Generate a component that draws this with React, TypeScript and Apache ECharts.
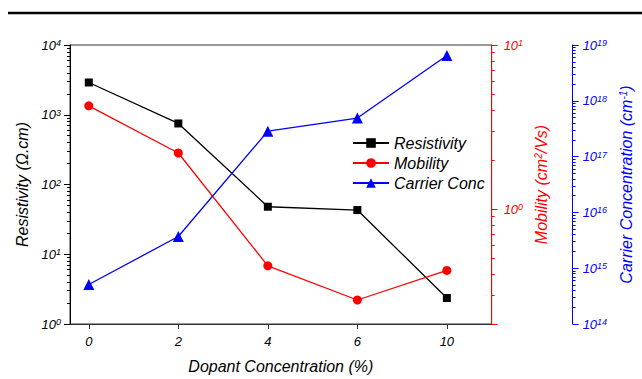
import React, { useEffect, useRef } from "react";
import * as echarts from "echarts";

const categories = ["0", "2", "4", "6", "10"];
const resistivity = [2900, 750, 48, 43, 2.36];
const mobility = [4.26, 2.2, 0.452, 0.28, 0.424];
const carrier = [5.1e14, 3.7e15, 2.86e17, 4.9e17, 6.5e18];

const leftRange = [1, 1e4];
const redRange = [0.2, 10];
const blueRange = [1e14, 1e19];

const FONT = "Liberation Sans, Arial, sans-serif";

function minorLogs(lo: number, hi: number): number[] {
  const out: number[] = [];
  const a = Math.floor(Math.log10(lo));
  const b = Math.ceil(Math.log10(hi));
  for (let n = a; n < b; n++) {
    for (let k = 2; k <= 9; k++) {
      const v = Math.log10(k) + n;
      if (v >= Math.log10(lo) - 1e-9 && v <= Math.log10(hi) + 1e-9) out.push(v);
    }
  }
  return out;
}

function supRich(color: string) {
  return {
    b: { fontSize: 13, fontStyle: "italic", fontFamily: FONT, color },
    s: { fontSize: 9, fontStyle: "italic", fontFamily: FONT, color, verticalAlign: "top" as const },
  };
}

function logFmt(v: number) {
  const l = Math.log10(v);
  const e = Math.round(l);
  if (Math.abs(l - e) > 1e-6) return "";
  return `{b|10}{s|${e}}`;
}

export default function App() {
  const ref = useRef<HTMLDivElement>(null);
  useEffect(() => {
    document.body.style.margin = "0";
    const chart = echarts.init(ref.current!, null, { renderer: "svg" });
    const nameStyle = (color: string) => ({
      fontSize: 16,
      fontStyle: "italic" as const,
      fontFamily: FONT,
      color,
      rich: {
        s: { fontSize: 10, fontStyle: "italic" as const, fontFamily: FONT, color, verticalAlign: "top" as const },
      },
    });
    const minorAxis = (position: string, offset: number, range: number[], color: string) => ({
      type: "value",
      position,
      offset,
      min: Math.log10(range[0]),
      max: Math.log10(range[1]),
      axisLine: { show: false, onZero: false },
      axisLabel: { show: false },
      splitLine: { show: false },
      axisTick: {
        show: true,
        inside: false,
        length: 3,
        customValues: minorLogs(range[0], range[1]),
        lineStyle: { color, width: 1 },
      },
    });
    chart.setOption({
      animation: false,
      backgroundColor: "#ffffff",
      graphic: [
        {
          type: "line",
          shape: { x1: 8, y1: 13, x2: 642, y2: 13 },
          style: { stroke: "#000", lineWidth: 2.5 },
        },
      ],
      grid: {
        left: 70,
        right: 146,
        top: 45,
        bottom: 48,
        show: true,
        borderColor: "#333",
        borderWidth: 1,
        backgroundColor: "transparent",
      },
      legend: {
        orient: "vertical",
        left: 352,
        top: 135,
        padding: 0,
        itemWidth: 36,
        itemHeight: 12,
        itemGap: 4,
        selectedMode: false,
        textStyle: { fontSize: 16, fontStyle: "italic", fontFamily: FONT, color: "#000", lineHeight: 16 },
        data: ["Resistivity", "Mobility", "Carrier Conc"],
      },
      xAxis: {
        type: "value",
        min: -0.21,
        max: 4.5,
        name: "Dopant Concentration (%)",
        nameLocation: "middle",
        nameGap: 34,
        nameTextStyle: { fontSize: 16, fontStyle: "italic", fontFamily: FONT, color: "#000" },
        axisLine: { onZero: false, lineStyle: { color: "#333", width: 1 } },
        axisTick: {
          show: true,
          inside: false,
          length: 5,
          customValues: categories.map((_, i) => i),
          lineStyle: { color: "#333" },
        },
        axisLabel: {
          customValues: categories.map((_, i) => i),
          formatter: (v: number) => categories[Math.round(v)] ?? "",
          fontSize: 13,
          fontStyle: "italic",
          fontFamily: FONT,
          color: "#000",
          margin: 11,
        },
        splitLine: { show: false },
      },
      yAxis: [
        {
          type: "log",
          logBase: 10,
          min: leftRange[0],
          max: leftRange[1],
          position: "left",
          name: "Resistivity (Ω.cm)",
          nameLocation: "middle",
          nameGap: 33,
          nameTextStyle: nameStyle("#000"),
          axisLine: { show: true, onZero: false, lineStyle: { color: "#000", width: 1 } },
          axisTick: { show: true, inside: false, length: 6, lineStyle: { color: "#000" } },
          axisLabel: { formatter: logFmt, rich: supRich("#000"), margin: 9 },
          splitLine: { show: false },
        },
        {
          type: "log",
          logBase: 10,
          min: redRange[0],
          max: redRange[1],
          position: "right",
          offset: 0,
          name: "Mobility (cm{s|2}/Vs)",
          nameLocation: "middle",
          nameGap: 38,
          nameTextStyle: nameStyle("#ff0000"),
          axisLine: { show: true, onZero: false, lineStyle: { color: "#ff0000", width: 1 } },
          axisTick: { show: true, inside: false, length: 6, lineStyle: { color: "#ff0000" } },
          axisLabel: { formatter: logFmt, rich: supRich("#ff0000"), margin: 12 },
          splitLine: { show: false },
        },
        {
          type: "log",
          logBase: 10,
          min: blueRange[0],
          max: blueRange[1],
          position: "right",
          offset: 81,
          name: "Carrier Concentration (cm{s|-1})",
          nameLocation: "middle",
          nameGap: 42,
          nameTextStyle: nameStyle("#0000ff"),
          axisLine: { show: true, onZero: false, lineStyle: { color: "#0000ff", width: 1 } },
          axisTick: { show: true, inside: false, length: 6, lineStyle: { color: "#0000ff" } },
          axisLabel: { formatter: logFmt, rich: supRich("#0000ff"), margin: 10 },
          splitLine: { show: false },
        },
        minorAxis("left", 0, leftRange, "#000"),
        minorAxis("right", 0, redRange, "#ff0000"),
        minorAxis("right", 81, blueRange, "#0000ff"),
      ],
      series: [
        {
          name: "Resistivity",
          type: "line",
          yAxisIndex: 0,
          data: resistivity.map((v, i) => [i, v]),
          symbol: "rect",
          symbolSize: 8,
          lineStyle: { color: "#000", width: 1.3 },
          itemStyle: { color: "#000" },
        },
        {
          name: "Mobility",
          type: "line",
          yAxisIndex: 1,
          data: mobility.map((v, i) => [i, v]),
          symbol: "circle",
          symbolSize: 9,
          lineStyle: { color: "#ff0000", width: 1.3 },
          itemStyle: { color: "#ff0000" },
        },
        {
          name: "Carrier Conc",
          type: "line",
          yAxisIndex: 2,
          data: carrier.map((v, i) => [i, v]),
          symbol: "triangle",
          symbolSize: 11,
          lineStyle: { color: "#0000ff", width: 1.3 },
          itemStyle: { color: "#0000ff" },
        },
      ],
    });
    return () => chart.dispose();
  }, []);
  return (
    <div
      ref={ref}
      style={{ position: "absolute", left: 0, top: 0, width: 642, height: 379 }}
    />
  );
}
